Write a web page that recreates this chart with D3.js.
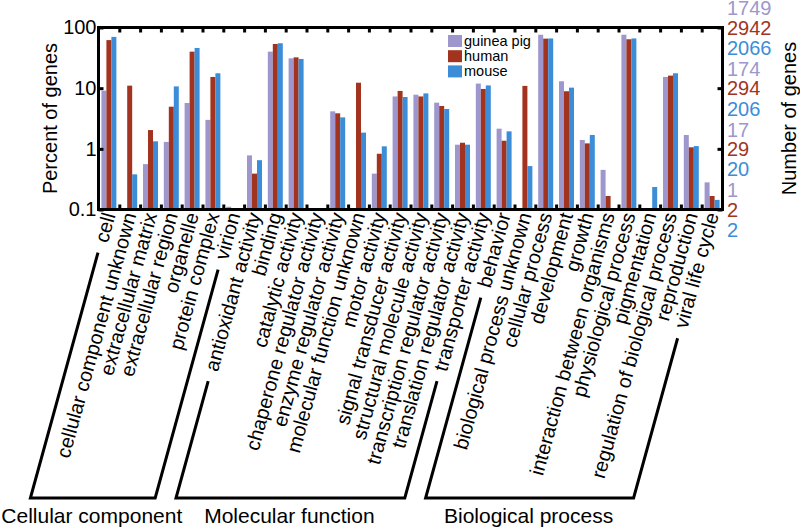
<!DOCTYPE html>
<html><head><meta charset="utf-8">
<script src="https://cdn.jsdelivr.net/npm/d3@7/dist/d3.min.js"></script>
<style>
body{margin:0;background:#fff}
svg{display:block}
text{font-family:"Liberation Sans",Arial,Helvetica,sans-serif;fill:#000}
</style>
</head><body>
<svg id="chart" width="800" height="529"></svg>
<script>
const categories = ["cell","cellular component unknown","extracellular matrix","extracellular region","organelle","protein complex","virion",
  "antioxidant activity","binding","catalytic activity","chaperone regulator activity","enzyme regulator activity","molecular function unknown","motor activity","signal transducer activity","structural molecule activity","transcription regulator activity","translation regulator activity","transporter activity",
  "behavior","biological process unknown","cellular process","development","growth","interaction between organisms","physiological process","pigmentation","regulation of biological process","reproduction","viral life cycle"];
const seriesNames = ["guinea pig","human","mouse"];
const seriesColors = ["#9d97cd","#a2341f","#3b8dd8"];
const guineaPig = [9.1,null,0.56,1.30,5.7,3.0,0.111, 0.78,40,31,null,4.15,null,0.39,7.3,7.8,5.77,1.17,11.9, 2.15,null,76,13,1.40,0.45,76,null,15.3,1.69,0.28];
const human     = [62,11.0,2.04,4.95,40,15.3,null, 0.39,53.5,32.2,null,3.85,12.3,0.83,9.0,7.3,5.08,1.26,9.7, 1.36,10.9,65.5,8.9,1.23,0.167,64,null,16.1,1.06,0.167];
const mouse     = [70,0.38,1.33,10.7,46,17.6,null, 0.65,55,30.3,null,3.3,1.85,1.1,7.15,8.2,4.54,1.17,11.1, 1.94,0.52,66,10.2,1.69,null,66,0.235,17.6,1.11,0.144];
const groupNames = ["Cellular component","Molecular function","Biological process"];
const groupFirst = [0,7,19];
const groupLast = [6,18,29];
const yTickValues = [0.1,1,10,100];
const yTickLabels = ["0.1","1","10","100"];
const countsGuineaPig = ["1","17","174","1749"];
const countsHuman = ["2","29","294","2942"];
const countsMouse = ["2","20","206","2066"];

const svg = d3.select("#chart");
const L = 98.5, R = 722.5, T = 27.5, B = 209.5;
const FS = 20;
const ANG = -74.6;
const rad = ANG*Math.PI/180;
const dir = [Math.cos(rad), Math.sin(rad)]; // baseline direction

const x = d3.scaleBand().domain(categories).range([L,R]).paddingInner(0.28).paddingOuter(0.14);
const xs = d3.scaleBand().domain(seriesNames).range([0,x.bandwidth()]);
const idx = d3.scaleLinear().domain([0,categories.length]).range([L,R]);
const y = d3.scaleLog().domain([0.1,100]).range([B,T]);
const values = [guineaPig,human,mouse];

// bars
const g = svg.append("g");
seriesNames.forEach((s,si)=>{
  g.selectAll(null).data(categories.map((c,i)=>({c,v:values[si][i]})).filter(d=>d.v!=null))
   .join("rect")
   .attr("x",d=>x(d.c)+xs(s))
   .attr("width",xs.bandwidth())
   .attr("y",d=>y(d.v))
   .attr("height",d=>B-y(d.v))
   .attr("fill",seriesColors[si]);
});

// axes ticks (inward)
const bTicks = d3.range(1,categories.length);
svg.append("g").attr("transform",`translate(0,${T})`)
  .call(d3.axisTop(idx).tickValues(bTicks).tickSize(-5).tickFormat(""))
  .call(a=>{a.select(".domain").remove();a.selectAll("line").attr("stroke","#000").attr("stroke-width",3);});
svg.append("g").attr("transform",`translate(0,${B})`)
  .call(d3.axisBottom(idx).tickValues(bTicks).tickSize(-5).tickFormat(""))
  .call(a=>{a.select(".domain").remove();a.selectAll("line").attr("stroke","#000").attr("stroke-width",3);});
svg.append("g").attr("transform",`translate(${L},0)`)
  .call(d3.axisLeft(y).tickValues(yTickValues).tickSizeInner(-5).tickSizeOuter(0).tickPadding(2).tickFormat((d,i)=>yTickLabels[i]))
  .call(a=>{a.select(".domain").remove();a.selectAll("line").attr("stroke","#000").attr("stroke-width",3);
    a.selectAll("text").attr("font-size",FS).attr("font-family","Liberation Sans, Arial, sans-serif").attr("fill","#000");});
svg.append("g").attr("transform",`translate(${R},0)`)
  .call(d3.axisRight(y).tickValues(yTickValues).tickSizeInner(-5).tickSizeOuter(0).tickFormat(""))
  .call(a=>{a.select(".domain").remove();a.selectAll("line").attr("stroke","#000").attr("stroke-width",3);});

// frame
svg.append("rect").attr("x",L).attr("y",T).attr("width",R-L).attr("height",B-T)
  .attr("fill","none").attr("stroke","#000").attr("stroke-width",3);

// right count labels
const countSets = [countsGuineaPig,countsHuman,countsMouse];
const countOffsets = [-19.3,0,20.5];
yTickValues.forEach((t,ti)=>{
  countSets.forEach((set,si)=>{
    svg.append("text").attr("x",R+4.5).attr("y",y(t)+countOffsets[si]).attr("dy","0.35em")
      .attr("font-size",FS).style("fill",seriesColors[si]).text(set[ti]);
  });
});

// axis titles
svg.append("text").attr("transform",`translate(50,${(T+B)/2}) rotate(-90)`).attr("dy","0.35em")
  .attr("text-anchor","middle").attr("font-size",FS).text("Percent of genes");
svg.append("text").attr("transform",`translate(789,${(T+B)/2}) rotate(-90)`).attr("dy","0.35em")
  .attr("text-anchor","middle").attr("font-size",FS).text("Number of genes");

// category labels
const labY = 213;
const labels = svg.append("g").selectAll("text").data(categories).join("text")
  .attr("transform",d=>`translate(${x(d)+x.bandwidth()/2},${labY}) rotate(${ANG})`)
  .attr("dy","0.35em").attr("text-anchor","end").attr("font-size",FS).text(d=>d);
const lens = labels.nodes().map(n=>n.getComputedTextLength());

// brackets
const botY = 498, gap = 11;
groupNames.forEach((name,gi)=>{
  const pts = [groupFirst[gi],groupLast[gi]].map(i=>{
    const cx = x(categories[i])+x.bandwidth()/2;
    const l = lens[i]+gap;
    const top = [cx - dir[0]*l, labY - dir[1]*l];
    const t = (botY - top[1]) / (-dir[1]);
    const bot = [top[0] - dir[0]*t, botY];
    return {top,bot};
  });
  const line = d3.line();
  svg.append("path").attr("d",line([pts[0].top,pts[0].bot,pts[1].bot,pts[1].top]))
    .attr("fill","none").attr("stroke","#000").attr("stroke-width",3);
  svg.append("text").attr("x",(pts[0].bot[0]+pts[1].bot[0])/2 - 1).attr("y",523)
    .attr("text-anchor","middle").attr("font-size",21).text(name);
});

// legend
const lg = svg.append("g").attr("transform","translate(448,35)");
seriesNames.forEach((s,i)=>{
  lg.append("rect").attr("x",0).attr("y",i*15.2).attr("width",14).attr("height",12).attr("fill",seriesColors[i]);
  lg.append("text").attr("x",16).attr("y",i*15.2+6).attr("dy","0.35em").attr("font-size",14.5).text(s);
});
</script>
</body></html>
